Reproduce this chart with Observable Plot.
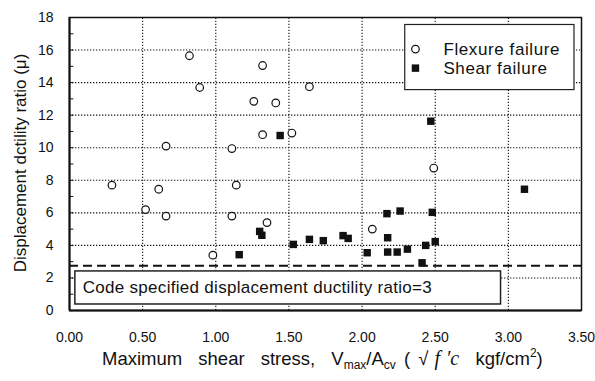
<!DOCTYPE html>
<html>
<head>
<meta charset="utf-8">
<script src="https://cdn.jsdelivr.net/npm/d3@7"></script>
<script src="https://cdn.jsdelivr.net/npm/@observablehq/plot@0.6"></script>
<style>
  html, body { margin: 0; padding: 0; background: #fff; }
  #chart svg { display: block; }
</style>
</head>
<body>
<div id="chart"></div>
<script>
// Flexure failure (open circles)
const flexX = [0.29, 0.52, 0.61, 0.66, 0.66, 0.82, 0.89, 0.98, 1.11, 1.11, 1.14, 1.26, 1.32, 1.32, 1.35, 1.41, 1.52, 1.64, 2.07, 2.49];
const flexY = [7.7, 6.2, 7.45, 10.1, 5.8, 15.65, 13.7, 3.4, 9.95, 5.8, 7.7, 12.85, 15.05, 10.8, 5.4, 12.75, 10.9, 13.75, 5.0, 8.75];
// Shear failure (filled squares)
const shearX = [1.44, 2.47, 3.11, 2.17, 2.26, 2.48, 1.30, 1.315, 1.53, 1.64, 1.735, 1.87, 1.905, 2.175, 1.16, 2.035, 2.175, 2.24, 2.31, 2.435, 2.50, 2.41];
const shearY = [10.75, 11.63, 7.45, 5.95, 6.11, 6.03, 4.86, 4.62, 4.06, 4.37, 4.29, 4.6, 4.43, 4.47, 3.43, 3.55, 3.59, 3.59, 3.77, 4.0, 4.23, 2.93];

const xTicks = [0, 0.5, 1.0, 1.5, 2.0, 2.5, 3.0, 3.5];
const yTicks = [0, 2, 4, 6, 8, 10, 12, 14, 16, 18];
const xGrid = [0.5, 1.0, 1.5, 2.0, 2.5, 3.0];
const yGrid = [2, 4, 6, 8, 10, 12, 14, 16];
const yMinor = d3.range(1, 18);
const codeLine = [2.75];
const legendLabels = ["Flexure failure", "Shear failure"];
const codeLabel = ["Code specified displacement ductility ratio=3"];

const flex = flexX.map((x, i) => ({x, y: flexY[i]}));
const shear = shearX.map((x, i) => ({x, y: shearY[i]}));

const font = "'Liberation Sans', Arial, Helvetica, sans-serif";
const dotted = {stroke: "#111", strokeWidth: 1.1, strokeDasharray: "1.3,1.7"};

function spaced(ls) {
  return function(index, scales, values, dims, context, next) {
    const g = next(index, scales, values, dims, context);
    d3.select(g).selectAll("text").style("letter-spacing", ls);
    return g;
  };
}

const chart = Plot.plot({
  width: 595,
  height: 381,
  marginLeft: 69,
  marginRight: 14,
  marginTop: 17,
  marginBottom: 71,
  style: {fontFamily: font, fontSize: "14px", color: "#111", background: "#fff"},
  x: {domain: [0, 3.5], ticks: xTicks, tickFormat: d3.format(".2f"), tickSize: 0, tickPadding: 22, label: null},
  y: {domain: [0, 18], ticks: yTicks, tickSize: 0, tickPadding: 16, label: null},
  marks: [
    Plot.ruleY(yGrid, {x1: 0, x2: 3.5, ...dotted}),
    Plot.ruleX(xGrid, {y1: 0, y2: 18, ...dotted}),
    Plot.ruleY(yMinor, {x1: 0, x2: 0.03, stroke: "#111", strokeWidth: 1}),
    // legend box
    Plot.rect([0], {x1: 2.295, x2: 3.452, y1: 13.54, y2: 17.54, fill: "white", stroke: "#222", strokeWidth: 1.2}),
    // code box
    Plot.rect([0], {x1: 0.04, x2: 2.95, y1: 0.37, y2: 2.4, fill: "white", stroke: "#222", strokeWidth: 1.5}),
    Plot.ruleY(codeLine, {x1: 0, x2: 3.5, stroke: "#111", strokeWidth: 2, strokeDasharray: "9,5"}),
    Plot.text(codeLabel, {x: 0.09, y: 1.4, text: d => d, textAnchor: "start", fontSize: 17, fill: "#111", render: spaced("0.3px")}),
    Plot.dot(flex, {x: "x", y: "y", r: 3.8, stroke: "#111", strokeWidth: 1.2, fill: "white"}),
    Plot.dot(shear, {x: "x", y: "y", r: 4.2, symbol: "square", fill: "#111", stroke: "none"}),
    // legend entries
    Plot.dot([legendLabels[0]], {x: 2.365, y: 16.06, r: 3.8, stroke: "#111", strokeWidth: 1.2, fill: "white"}),
    Plot.dot([legendLabels[1]], {x: 2.365, y: 14.89, r: 4.2, symbol: "square", fill: "#111"}),
    Plot.text(legendLabels, {x: 2.556, y: (d, i) => i === 0 ? 16.06 : 14.89, text: d => d, textAnchor: "start", fontSize: 17, fill: "#111", render: spaced("0.6px")}),
    Plot.frame({stroke: "#111", strokeWidth: 1.5}),
    Plot.ruleX([0], {y1: 0, y2: 18, stroke: "#111", strokeWidth: 2}),
    Plot.ruleY([0], {x1: 0, x2: 3.5, stroke: "#111", strokeWidth: 2})
  ]
});

document.getElementById("chart").appendChild(chart);

const svg = d3.select(chart);
svg.append("text")
  .attr("transform", "translate(20,163) rotate(-90)")
  .attr("text-anchor", "middle")
  .attr("dominant-baseline", "central")
  .attr("font-family", font)
  .attr("font-size", 17)
  .attr("fill", "#111")
  .text("Displacement dctility ratio (μ)");

const t = svg.append("text")
  .attr("x", 102).attr("y", 365)
  .attr("text-anchor", "start")
  .attr("font-family", font)
  .attr("font-size", 18.5)
  .attr("fill", "#111")
  .style("word-spacing", "11px");
t.append("tspan").text("Maximum shear stress, V");
t.append("tspan").attr("font-size", 12).attr("dy", 4).text("max");
t.append("tspan").attr("dy", -4).text("/A");
t.append("tspan").attr("font-size", 12).attr("dy", 4).text("cv");
t.append("tspan").attr("dy", -4).style("word-spacing", "3px").text(" ( \u221A");
t.append("tspan").attr("font-style", "italic").attr("font-family", "'Liberation Serif', serif").attr("font-size", 20).style("word-spacing", "1px").text(" f \u2032c");
t.append("tspan").text(" kgf/cm");
t.append("tspan").attr("font-size", 12).attr("dy", -8).text("2");
t.append("tspan").attr("dy", 8).text(")");
</script>
</body>
</html>
